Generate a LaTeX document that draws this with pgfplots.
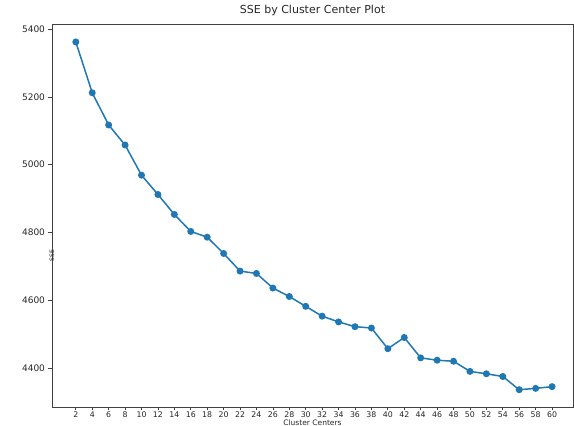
\documentclass[border=0pt]{standalone}
\usepackage{fontspec}
\setmainfont{DejaVu Sans}
\usepackage{pgfplots}
\pgfplotsset{compat=1.18}
\definecolor{mplblue}{HTML}{1F77B4}
\begin{document}
\begin{tikzpicture}
\useasboundingbox (-52pt,-19pt) rectangle (522pt,407pt);
\begin{axis}[
  at={(0,0)}, anchor=south west,
  scale only axis, width=521pt, height=383pt,
  xmin=-0.9, xmax=62.55, ymin=4285, ymax=5415,
  xtick={2,4,...,60}, ytick={4400,4600,...,5400},
  tick align=outside, tick pos=left, major tick length=3.5pt,
  tick style={black!75, line width=0.7pt},
  axis line style={black!75, line width=0.8pt},
  xticklabel style={font=\fontsize{7.8}{8.5}\selectfont, text=black!85, inner sep=1.2pt},
  yticklabel style={font=\fontsize{9}{10}\selectfont, text=black!85},
  /pgf/number format/assume math mode=true,
  /pgf/number format/1000 sep={},
  title={SSE by Cluster Center Plot},
  title style={font=\fontsize{11}{13}\selectfont, text=black!85, at={(axis description cs:0.5,1)}, anchor=base, yshift=4pt},
  xlabel={Cluster Centers},
  xlabel style={font=\fontsize{7.5}{8}\selectfont, text=black!85, at={(axis description cs:0.5,0)}, anchor=north, yshift=-12.3pt, inner sep=0.3pt},
  ylabel={SSE},
  ylabel style={font=\fontsize{6}{7}\selectfont, text=black!85, at={(axis description cs:0,0.5)}, anchor=center, xshift=-40pt},
]
\addplot[color=mplblue, line width=1.5pt, mark=*, mark size=2.7pt, mark options={fill=mplblue, draw=mplblue}] coordinates {
(2,5362) (4,5212) (6,5117) (8,5058) (10,4969) (12,4912) (14,4853) (16,4803)
(18,4786) (20,4738) (22,4686) (24,4679) (26,4636) (28,4611) (30,4582) (32,4553)
(34,4536) (36,4522) (38,4518) (40,4457) (42,4490) (44,4430) (46,4423) (48,4420)
(50,4390) (52,4383) (54,4375) (56,4336) (58,4340) (60,4345)
};
\end{axis}
\end{tikzpicture}
\end{document}
